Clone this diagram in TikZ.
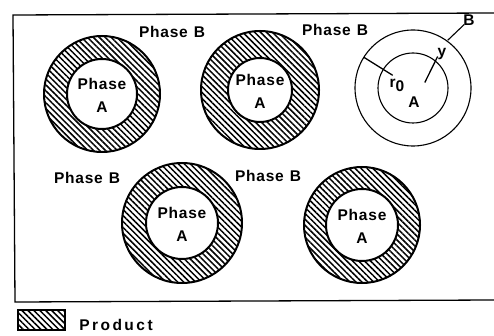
\documentclass[tikz,border=0pt]{standalone}
\usepackage{fontspec}
\setmainfont{Liberation Sans}
\newfontfamily\lblfont{Liberation Sans}[LetterSpace=5]
\newfontfamily\prodfont{Liberation Sans}[LetterSpace=16]
\usetikzlibrary{patterns.meta,calc}
\tikzset{
  lbl/.style={font=\lblfont\bfseries\fontsize{15.5}{17}\selectfont, inner sep=0pt},
  hatch/.style={pattern={Lines[angle=-45,distance=4.2pt,line width=1.5pt]}},
  ringline/.style={line width=2pt},
  thinring/.style={line width=1.1pt},
  frameline/.style={line width=1.3pt},
}
\newcommand{\prodring}[5]{%
  \coordinate (#5) at (#1,#2);
  \path[hatch, even odd rule] (#5) circle[radius=#3] (#5) circle[radius=#4];
  \draw[ringline] (#5) circle[radius=#3];
  \draw[ringline] (#5) circle[radius=#4];
  \node[lbl] (#5p) at ($(#5)+(0,-10)$) {Phase};
  \node[lbl] (#5a) at ($(#5)+(0,13)$) {A};
}
\begin{document}
\begin{tikzpicture}[x=1pt,y=-1pt]
\useasboundingbox (0,0) rectangle (494,336);
\draw[frameline] (494,13) -- (13,15) -- (15,302) -- (494,300);

\prodring{102}{94}{58}{35}{c1}
\prodring{260}{90}{59}{32}{c2}
\prodring{182}{223}{60}{36}{c4}
\prodring{362}{225}{58}{36}{c5}

% schematic circle
\coordinate (c3) at (413,88);
\draw[thinring] (c3) circle[radius=58];
\draw[thinring] (c3) circle[radius=35];
\coordinate (r0a) at ($(c3)+(-148:58)$);
\coordinate (r0b) at ($(c3)+(-148:24)$);
\draw[line width=1.3pt] (r0a) -- (r0b);
\coordinate (ya) at ($(c3)+(-25:13)$);
\coordinate (yb) at ($(c3)+(-52:40)$);
\draw[line width=1.3pt] (ya) -- (yb);
\node[lbl] (r0) at (397,85) {r\raisebox{-4pt}{0}};
\node[lbl] (a3) at (414,102) {A};
\node[lbl] (ylab) at (442,54) {y};
\node[lbl] (blab) at (469,20) {B};
\coordinate (bl) at ($(c3)+(-54:59)$);
\draw[line width=1.1pt] (bl) -- ($(blab.south west)+(1,-1)$);

% phase B labels
\node[lbl] (pb1) at (172,32) {Phase\hspace{6pt}B};
\node[lbl] (pb2) at (335,30) {Phase\hspace{6pt}B};
\node[lbl] (pb3) at (87,178) {Phase\hspace{6pt}B};
\node[lbl] (pb4) at (268,176) {Phase\hspace{6pt}B};

% legend
\path[hatch] (18,310) rectangle (65,330);
\draw[line width=1.3pt] (18,310) rectangle (65,330);
\node[font=\prodfont\bfseries\fontsize{15.5}{17}\selectfont, inner sep=0pt] (prod) at (116,325) {Product};
\end{tikzpicture}
\end{document}
